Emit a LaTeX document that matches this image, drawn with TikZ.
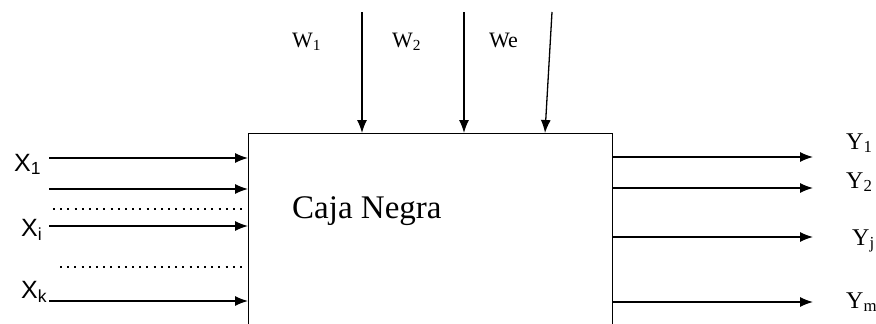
\documentclass[tikz,border=0pt]{standalone}
\usepackage{fontspec}
\setmainfont{Liberation Serif}
\setsansfont{Liberation Sans}
\usepackage{tikz}
\usetikzlibrary{arrows.meta}

\begin{document}
\begin{tikzpicture}[x=1pt,y=-1pt,>={Latex[length=13pt,width=10pt]},
    flecha/.style={->,line width=1.3pt},
    puntos/.style={line width=2pt,dash pattern=on 2pt off 5.2pt},
    etiq/.style={anchor=base west,inner sep=0pt,font=\rmfamily\fontsize{24}{28}\selectfont},
    etiqx/.style={anchor=base west,inner sep=0pt,font=\sffamily\fontsize{25}{30}\selectfont}]
        \useasboundingbox (0,0) rectangle (876,324);
        \fill[white] (0,0) rectangle (876,324);
        \clip (0,0) rectangle (876,324);
        \node[draw, line width=1.3pt, minimum width=364pt, minimum height=220pt, anchor=north west, inner sep=0pt] (caja) at (248,133) {};
        \node[anchor=base west, inner sep=0pt, font=\rmfamily\fontsize{33}{38}\selectfont] (nombre) at (292,218) {Caja Negra};
        % entradas
        \foreach \y/\n in {158/1, 189/2, 226/i, 301/k}
            \draw[flecha] (49,\y) coordinate (x\n) -- (x\n -| caja.west);
        \draw[puntos] (53,209) coordinate (p1) -- (p1 -| 242,0);
        \draw[puntos] (60,267) coordinate (p2) -- (p2 -| 242,0);
        \node[etiqx] (lx1) at (14,171) {X\textsubscript{1}};
        \node[etiqx] (lxi) at (21,236) {X\textsubscript{i}};
        \node[etiqx] (lxk) at (21,298) {X\textsubscript{k}};
        % perturbaciones
        \coordinate (w1) at (362,12);
        \coordinate (w2) at (464,12);
        \coordinate (w3) at (552,12);
        \draw[flecha] (w1) -- (w1 |- caja.north);
        \draw[flecha] (w2) -- (w2 |- caja.north);
        \draw[flecha] (w3) -- ([xshift=297pt]caja.north west);
        \node[etiq, font=\rmfamily\fontsize{22}{26}\selectfont] (lw1) at (292,47) {W\textsubscript{1}};
        \node[etiq, font=\rmfamily\fontsize{22}{26}\selectfont] (lw2) at (392,47) {W\textsubscript{2}};
        \node[etiq, font=\rmfamily\fontsize{22}{26}\selectfont] (lwe) at (489,47) {We};
        % salidas
        \foreach \y/\n in {157/1, 188/2, 237/j, 302/m}
            \draw[flecha] (caja.east |- 0,\y) -- (813,\y) coordinate (y\n);
        \node[etiq] (ly1) at (846,149) {Y\textsubscript{1}};
        \node[etiq] (ly2) at (846,188) {Y\textsubscript{2}};
        \node[etiq] (lyj) at (852,245) {Y\textsubscript{j}};
        \node[etiq] (lym) at (846,308) {Y\textsubscript{m}};
    \end{tikzpicture}
\end{document}
